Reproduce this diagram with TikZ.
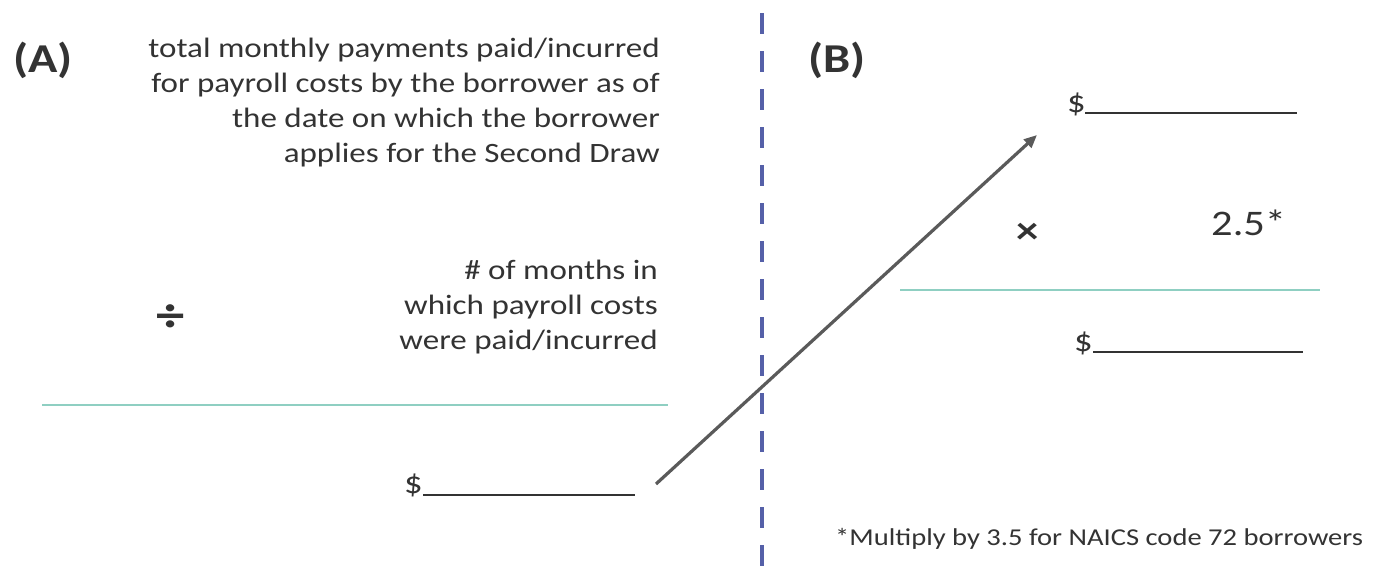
\documentclass[tikz,border=0pt]{standalone}
\usepackage{fontspec}
\setmainfont[FakeStretch=1.18]{Carlito}
\usetikzlibrary{arrows.meta}
\definecolor{txt}{HTML}{333333}
\definecolor{teal}{HTML}{8FCFC2}
\definecolor{dashblue}{HTML}{5560A8}
\definecolor{arrowgray}{HTML}{5A5A5A}
\tikzset{
  body/.style={inner sep=0pt, text=txt, font=\fontsize{28}{35}\selectfont, align=right},
  label/.style={inner sep=0pt, text=txt, font=\fontsize{41}{42}\selectfont\bfseries},
  dollar/.style={inner sep=0pt, text=txt, font=\fontsize{31}{35}\selectfont},
  blank/.style={draw=txt, line width=2pt},
  rule/.style={draw=teal, line width=1.3pt},
}
\begin{document}
\begin{tikzpicture}[x=1pt,y=-1pt]
\useasboundingbox (0,0) rectangle (1383,570);
\fill[white] (0,0) rectangle (1383,570);

% divider
\coordinate (dv1) at (762,13);
\coordinate (dv2) at (762,570);
\draw[dashblue, line width=3.2pt, dash pattern=on 21pt off 17pt] (dv1) -- (dv2);

% panel A
\node[label, anchor=base west] (A) at (13,72) {(A)};
\node[body, anchor=base east] (num) at (660,162) {total monthly payments paid/incurred\\for payroll costs by the borrower as of\\the date on which the borrower\\applies for the Second Draw};
\node[label, font=\fontsize{48}{48}\selectfont\bfseries, anchor=center] (div) at (171,318) {÷};
\node[body, anchor=base east] (den) at (658,349) {\# of months in\\which payroll costs\\were paid/incurred};
\coordinate (ra1) at (42,405);
\coordinate (ra2) at (668,405);
\draw[rule] (ra1) -- (ra2);
\node[dollar, anchor=base west] (dA) at (404,493) {\$};
\coordinate (uA1) at (423,495);
\coordinate (uA2) at (635,495);
\draw[blank] (uA1) -- (uA2);

% panel B
\node[label, anchor=base west] (B) at (808,72) {(B)};
\node[dollar, anchor=base west] (dB1) at (1067,112) {\$};
\coordinate (uB1) at (1085,113);
\coordinate (uB2) at (1297,113);
\draw[blank] (uB1) -- (uB2);
\node[label, font=\fontsize{38}{38}\selectfont\bfseries, anchor=center] (times) at (1028,233) {×};
\node[dollar, font=\fontsize{36}{36}\selectfont, anchor=base west] (mult) at (1211,235) {2.5*};
\coordinate (rb1) at (900,290);
\coordinate (rb2) at (1320,290);
\draw[rule] (rb1) -- (rb2);
\node[dollar, anchor=base west] (dB2) at (1074,351) {\$};
\coordinate (uB3) at (1093,352);
\coordinate (uB4) at (1303,352);
\draw[blank] (uB3) -- (uB4);

\node[inner sep=0pt, text=txt, font=\fontsize{24.2}{28}\selectfont, anchor=base west] (note) at (835,545) {*Multiply by 3.5 for NAICS code 72 borrowers};

% arrow
\coordinate (arrS) at (656,484);
\coordinate (arrE) at (1037,135);
\draw[arrowgray, line width=3.2pt, -{Triangle[length=13pt,width=11pt]}] (arrS) -- (arrE);
\end{tikzpicture}
\end{document}
